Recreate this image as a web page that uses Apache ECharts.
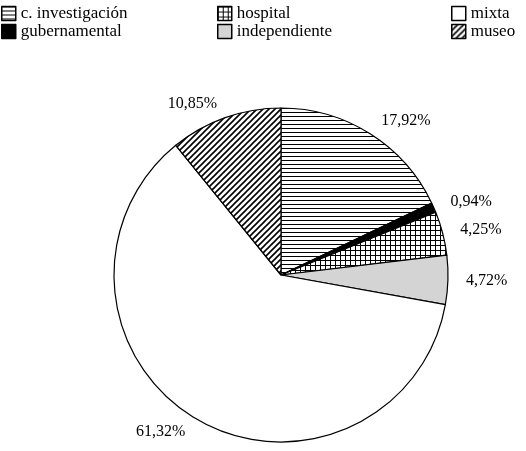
<!DOCTYPE html>
<html style="height: 100%;">
<head>
<meta charset="utf-8">
<title>pie</title>
<script type="text/javascript" src="https://cdn.jsdelivr.net/npm/echarts@6/dist/echarts.min.js"></script>
</head>
<body style="height: 100%; margin: 0; background: #fff">
<div id="container" style="width: 526px; height: 451px"></div>
<script type="text/javascript">
// datos
var categorias = ['c. investigación', 'gubernamental', 'hospital', 'independiente', 'mixta', 'museo'];
var valores = [17.92, 0.94, 4.25, 4.72, 61.32, 10.85];
var etiquetas = ['17,92%', '0,94%', '4,25%', '4,72%', '61,32%', '10,85%'];

// tramas (patrones) en canvas
function trama(tipo) {
    var c = document.createElement('canvas');
    var ctx = c.getContext('2d');
    if (tipo == 'h') {
        c.width = 4; c.height = 4;
        ctx.fillStyle = '#fff'; ctx.fillRect(0, 0, 4, 4);
        ctx.fillStyle = '#000'; ctx.fillRect(0, 0, 4, 1);
    } else if (tipo == 'grid') {
        c.width = 5; c.height = 5;
        ctx.fillStyle = '#fff'; ctx.fillRect(0, 0, 5, 5);
        ctx.fillStyle = '#000'; ctx.fillRect(0, 0, 5, 1); ctx.fillRect(0, 0, 1, 5);
    } else if (tipo == 'diag') {
        c.width = 6; c.height = 6;
        ctx.fillStyle = '#fff'; ctx.fillRect(0, 0, 6, 6);
        ctx.strokeStyle = '#000'; ctx.lineWidth = 1.6;
        ctx.beginPath();
        ctx.moveTo(-1, 7); ctx.lineTo(7, -1);
        ctx.moveTo(-4, 4); ctx.lineTo(4, -4);
        ctx.moveTo(2, 10); ctx.lineTo(10, 2);
        ctx.stroke();
    }
    return c;
}

var colores = [
    {image: trama('h'), repeat: 'repeat'},
    '#000000',
    {image: trama('grid'), repeat: 'repeat'},
    '#d4d4d4',
    '#ffffff',
    {image: trama('diag'), repeat: 'repeat'}
];

var datos = [];
for (var i = 0; i < categorias.length; i++) {
    datos.push({name: categorias[i], value: valores[i], itemStyle: {color: colores[i]},
                label: {formatter: etiquetas[i]}});
}

var fuente = {fontFamily: 'Liberation Serif', fontSize: 17, color: '#000'};
function leyenda(x, nombres) {
    return {
        orient: 'vertical', left: x, top: 5, padding: 0,
        itemWidth: 14, itemHeight: 14, itemGap: 1,
        icon: 'rect', selectedMode: false,
        itemStyle: {borderColor: '#000', borderWidth: 1.5},
        textStyle: fuente,
        data: nombres
    };
}

var myChart = echarts.init(document.getElementById('container'));
var option = {
    animation: false,
    backgroundColor: '#fff',
    legend: [
        leyenda(1, [categorias[0], categorias[1]]),
        leyenda(217, [categorias[2], categorias[3]]),
        leyenda(451, [categorias[4], categorias[5]])
    ],
    series: [
        {
            type: 'pie',
            center: [281, 275],
            radius: [0, 167],
            startAngle: 90,
            clockwise: true,
            avoidLabelOverlap: false,
            label: {show: true, position: 'outside', distanceToLabelLine: 3,
                    fontFamily: 'Liberation Serif', fontSize: 16, color: '#000'},
            labelLine: {show: false, length: 15, length2: 0},
            itemStyle: {borderColor: '#000', borderWidth: 1.2},
            emphasis: {disabled: true},
            data: datos
        }
    ]
};
myChart.setOption(option);
</script>
</body>
</html>
